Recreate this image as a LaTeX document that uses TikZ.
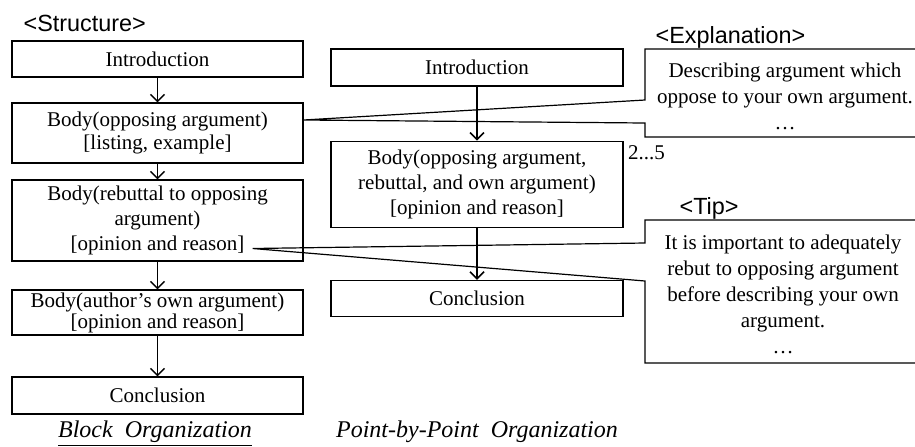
\documentclass[tikz,border=0pt]{standalone}
\usepackage{fontspec}
\setmainfont{Liberation Serif}
\newfontfamily\headfont{Liberation Sans}
\usetikzlibrary{arrows.meta,positioning}

\begin{document}
\begin{tikzpicture}[x=0.5pt,y=-0.5pt,>={Straight Barb[length=3.5pt,width=7pt]},line width=0.6pt,
  part/.style={draw,minimum width=145.5pt,inner sep=0.5pt,align=center,font=\fontsize{10.5}{11.5}\selectfont},
  flow/.style={->,line width=0.75pt},
  note/.style={align=center,inner sep=0pt,font=\fontsize{10.5}{13}\selectfont},
  tag/.style={anchor=base west,inner sep=0pt,font=\headfont\fontsize{11.7}{13}\selectfont},
  caption/.style={anchor=base,inner sep=0pt,font=\fontsize{12}{14}\selectfont\itshape}]
  \clip (0,0) rectangle (915,446);
  % block organization
  \node[tag] (structure) at (23,31) {<Structure>};
  \node[part,minimum height=18pt] (intro) at (157.5,59) {Introduction};
  \node[part,minimum height=30pt,below=12.4pt of intro] (body1) {Body(opposing argument)\\{}[listing, example]};
  \node[part,minimum height=40.5pt,below=7.9pt of body1,font=\fontsize{10.5}{12.5}\selectfont] (rebut) {Body(rebuttal to opposing\\argument)\\{}[opinion and reason]};
  \node[part,minimum height=22.5pt,below=13.9pt of rebut,font=\fontsize{10.5}{10.5}\selectfont] (own) {Body(author’s own argument)\\{}[opinion and reason]};
  \node[part,minimum height=18.5pt,below=20.4pt of own] (concl) {Conclusion};
  \draw[flow] (intro) -- (body1);
  \draw[flow] (body1) -- (rebut);
  \draw[flow] (rebut) -- (own);
  \draw[flow] (own) -- (concl);
  \node[caption] (blockcap) at (155,437) {\underline{Block\ \ Organization}};
  % point-by-point organization
  \node[part,minimum width=146pt,minimum height=18.5pt] (mintro) at (477,67.5) {Introduction};
  \node[part,minimum width=146pt,minimum height=43pt,below=27pt of mintro,font=\fontsize{10.5}{12.5}\selectfont] (mbody) {Body(opposing argument,\\rebuttal, and own argument)\\{}[opinion and reason]};
  \node[part,minimum width=146pt,minimum height=18pt,below=26pt of mbody] (mconcl) {Conclusion};
  \node[anchor=north west,inner sep=2pt,font=\fontsize{10.5}{12}\selectfont] (reps) at (mbody.north east) {2...5};
  \draw[flow] (mintro) -- (mbody);
  \draw[flow] (mbody) -- (mconcl);
  \node[caption] (pointcap) at (477,437) {Point-by-Point\ \ Organization};
  % explanation callout
  \node[tag] (explain) at (655,43) {<Explanation>};
  \coordinate (exptip) at ([yshift=6.5pt]body1.east);
  \draw (exptip) -- (645,100) -- (645,49) -- (925,49) -- (925,137) -- (645,137) -- (645,123) -- cycle;
  \node[note] (expl) at (785,96) {Describing argument which\\oppose to your own argument.\\…};
  % tip callout
  \node[tag] (tiplabel) at (679,214) {<Tip>};
  \coordinate (tiptip) at ([xshift=-25.5pt,yshift=-14pt]rebut.east);
  \draw (tiptip) -- (645,243) -- (645,220) -- (925,220) -- (925,363) -- (645,363) -- (645,281) -- cycle;
  \node[note] (tiptext) at (783,294.5) {It is important to adequately\\rebut to opposing argument\\before describing your own\\argument.\\…};
\end{tikzpicture}
\end{document}
